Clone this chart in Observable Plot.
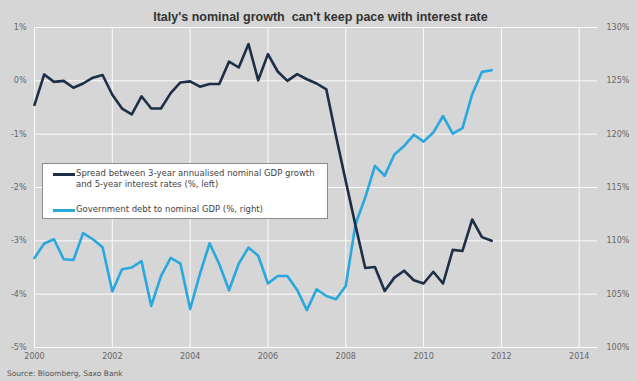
<!DOCTYPE html>
<html>
<head>
<meta charset="utf-8">
<script src="https://cdn.jsdelivr.net/npm/d3@7"></script>
<script src="https://cdn.jsdelivr.net/npm/@observablehq/plot@0.6"></script>
<style>
  html, body { margin: 0; padding: 0; background: #d6d6d6; }
  #wrap { position: relative; width: 637px; height: 381px; background: #d6d6d6; overflow: hidden; font-family: "DejaVu Sans", sans-serif; }
  #title { position: absolute; top: 10px; left: 2px; width: 637px; text-align: center; font: bold 12.5px "Liberation Sans", sans-serif; color: #333; }
  #chart { position: absolute; top: 20px; left: 0; }
  #legend { position: absolute; left: 42px; top: 163px; width: 284px; height: 54px; background: #fff; border: 1px solid #8c8c8c; font-size: 8.5px; color: #444; }
  #legend .sw { position: absolute; height: 2.5px; width: 22px; }
  #legend .tx { position: absolute; line-height: 10.5px; white-space: nowrap; }
  #source { position: absolute; left: 7px; top: 369px; font-size: 7.5px; color: #555; }
</style>
</head>
<body>
<div id="wrap">
  <div id="title"></div>
  <div id="chart"></div>
  <div id="legend"></div>
  <div id="source"></div>
</div>
<script>
const titleText = "Italy's nominal growth\u00a0 can't keep pace with interest rate";
const sourceText = "Source: Bloomberg, Saxo Bank";
const seriesNames = [
  "Spread between 3-year annualised nominal GDP growth and 5-year interest rates (%, left)",
  "Government debt to nominal GDP (%, right)"
];
const seriesColors = ["#1d2f47", "#29a8de"];

// quarterly observations starting 2000 Q1
const startYear = 2000;
// Spread (%, left axis)
const spread = [-0.45, 0.12, -0.02, 0.0, -0.13, -0.05, 0.06, 0.11, -0.26, -0.52, -0.63, -0.29, -0.52, -0.52, -0.23,
  -0.03, -0.01, -0.11, -0.06, -0.06, 0.36, 0.25, 0.69, 0.01, 0.5, 0.175, 0.0, 0.125, 0.03,
  -0.05, -0.16, -1.04, -1.88, -2.71, -3.51, -3.49, -3.94, -3.69, -3.56, -3.74, -3.80, -3.58, -3.80, -3.17, -3.19, -2.60, -2.93, -3.00];
// Government debt to nominal GDP (%, right axis)
const debt = [108.4, 109.75, 110.15, 108.27, 108.2, 110.72, 110.15, 109.4, 105.25, 107.34, 107.5, 108.1, 103.9, 106.7, 108.4,
  107.87, 103.6, 106.87, 109.77, 107.8, 105.37, 107.87, 109.37, 108.6, 106.0, 106.7, 106.7, 105.4, 103.5,
  105.46, 104.83, 104.52, 105.77, 111.56, 114.06, 117.03, 116.1, 118.1, 118.9, 119.94, 119.3, 120.15, 121.7, 120.06, 120.56, 123.75, 125.84, 126.0];

const xTicks = [2000, 2002, 2004, 2006, 2008, 2010, 2012, 2014];
const leftTicks = [1, 0, -1, -2, -3, -4, -5];
const rightTicks = [130, 125, 120, 115, 110, 105, 100];

// right axis maps onto left: 125% <-> 0%, 5 pts per 1%
const rightToLeft = r => (r - 125) / 5;
const leftToRight = l => 125 + 5 * l;

const data = spread.map((s, i) => ({t: startYear + i / 4, spread: s, debt: rightToLeft(debt[i])}));

document.getElementById("title").textContent = titleText;
document.getElementById("source").textContent = sourceText;

const leg = document.getElementById("legend");
leg.innerHTML = `
  <div class="sw" style="left:10px;top:9px;background:${seriesColors[0]}"></div>
  <div class="tx" style="left:33px;top:4px">${"Spread between 3-year annualised nominal GDP growth"}<br>${"and 5-year interest rates (%, left)"}</div>
  <div class="sw" style="left:10px;top:45px;background:${seriesColors[1]}"></div>
  <div class="tx" style="left:33px;top:40px">${seriesNames[1]}</div>`;

const chart = Plot.plot({
  width: 637,
  height: 342,
  marginLeft: 34,
  marginRight: 40,
  marginTop: 7,
  marginBottom: 15,
  style: {fontFamily: "DejaVu Sans", fontSize: "8px", color: "#666", background: "transparent", overflow: "visible"},
  x: {domain: [2000, 2014.47]},
  y: {domain: [-5, 1]},
  marks: [
    Plot.gridY(leftTicks, {stroke: "#fff", strokeOpacity: 0.9, strokeWidth: 1}),
    Plot.gridX(xTicks, {stroke: "#fff", strokeOpacity: 0.9, strokeWidth: 1}),
    Plot.axisY(leftTicks, {anchor: "left", tickSize: 0, tickPadding: 8, tickFormat: d => d + "%", label: null, fill: "#666"}),
    Plot.axisY(leftTicks, {anchor: "right", tickSize: 0, tickPadding: 9, tickFormat: d => leftToRight(d) + "%", label: null, fill: "#666", textAnchor: "start"}),
    Plot.axisX(xTicks, {anchor: "bottom", tickSize: 0, tickPadding: 6, tickFormat: d => String(d), label: null, fill: "#666"}),
    Plot.line(data, {x: "t", y: "debt", stroke: seriesColors[1], strokeWidth: 2.6}),
    Plot.line(data, {x: "t", y: "spread", stroke: seriesColors[0], strokeWidth: 2.6})
  ]
});
document.getElementById("chart").appendChild(chart);
</script>
</body>
</html>
